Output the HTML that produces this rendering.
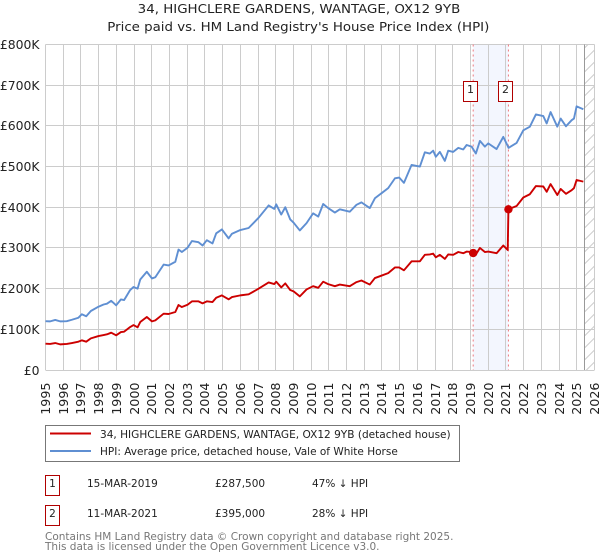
<!DOCTYPE html>
<html lang="en">
<head>
<meta charset="utf-8">
<title>34, Highclere Gardens price chart</title>
<style>
html,body{margin:0;padding:0;background:#fff;}
body{width:600px;height:560px;overflow:hidden;}
svg{display:block;font-family:"DejaVu Sans",sans-serif;fill:#222;}
</style>
</head>
<body>
<svg id="chart" width="600" height="560" viewBox="0 0 600 560">
  <defs>
    <pattern id="hatch" width="12" height="12" patternUnits="userSpaceOnUse" patternTransform="translate(584.5 0)">
      <path d="M-1 13L13 -1" stroke="#ccc" stroke-width="1" fill="none"/>
    </pattern>
  </defs>
  <text x="137.7" y="13" font-size="12.4" textLength="322.6" lengthAdjust="spacingAndGlyphs">34, HIGHCLERE GARDENS, WANTAGE, OX12 9YB</text>
  <text x="107.3" y="31" font-size="12.4" textLength="382" lengthAdjust="spacingAndGlyphs">Price paid vs. HM Land Registry's House Price Index (HPI)</text>
  <rect id="band" y="44.5" height="325.5" fill="#f3f6fe"/>
  <g id="grid"></g>
  <rect x="584.5" y="44.5" width="10" height="325.5" fill="url(#hatch)"/>
  <line x1="584.5" x2="584.5" y1="44.5" y2="370" stroke="#999" stroke-width="1"/>
  <g id="axes"></g>
  <g id="sale-lines"></g>
  <path id="hpi-line" fill="none" stroke="#5f8fd2" stroke-width="1.9" stroke-linejoin="round"/>
  <path id="price-line" fill="none" stroke="#cc0000" stroke-width="1.9" stroke-linejoin="round"/>
  <g id="sale-marks"></g>

  <g>
    <rect x="45.5" y="425.5" width="414" height="36" fill="#fff" stroke="#777"/>
    <line x1="50" x2="91" y1="433.5" y2="433.5" stroke="#cc0000" stroke-width="1.9"/>
    <text x="100" y="438" font-size="10.55">34, HIGHCLERE GARDENS, WANTAGE, OX12 9YB (detached house)</text>
    <line x1="50" x2="91" y1="451" y2="451" stroke="#5f8fd2" stroke-width="1.9"/>
    <text x="100" y="455" font-size="10.5">HPI: Average price, detached house, Vale of White Horse</text>
  </g>

  <g font-size="10.5">
    <rect x="45.5" y="475.5" width="14" height="20" fill="#fff" stroke="#b00000"/>
    <text x="52.5" y="487" text-anchor="middle">1</text>
    <text x="87" y="487">15-MAR-2019</text>
    <text x="215" y="487">£287,500</text>
    <text x="312" y="487">47% ↓ HPI</text>
    <rect x="45.5" y="505.5" width="14" height="20" fill="#fff" stroke="#b00000"/>
    <text x="52.5" y="517" text-anchor="middle">2</text>
    <text x="87" y="517">11-MAR-2021</text>
    <text x="215" y="517">£395,000</text>
    <text x="312" y="517">28% ↓ HPI</text>
  </g>
  <text x="45" y="540" font-size="10.5" style="fill:#777">Contains HM Land Registry data © Crown copyright and database right 2025.</text>
  <text x="45" y="550" font-size="10.5" style="fill:#777">This data is licensed under the Open Government Licence v3.0.</text>
</svg>
<script>
const yearTicks = [1995,1996,1997,1998,1999,2000,2001,2002,2003,2004,2005,2006,2007,2008,2009,2010,2011,2012,2013,2014,2015,2016,2017,2018,2019,2020,2021,2022,2023,2024,2025,2026];
const valueTicks = [0,100,200,300,400,500,600,700,800];
const valueTickLabels = ['£0','£100K','£200K','£300K','£400K','£500K','£600K','£700K','£800K'];

const hpiYears = [1995,1995.26,1995.55,1995.83,1996.2,1996.49,1996.86,1997.05,1997.3,1997.56,1997.99,1998.28,1998.47,1998.71,1998.99,1999.26,1999.44,1999.78,1999.97,2000.2,2000.35,2000.72,2001.01,2001.2,2001.67,2001.95,2002.33,2002.51,2002.7,2003.02,2003.27,2003.64,2003.87,2004.11,2004.43,2004.64,2004.96,2005.34,2005.53,2006,2006.47,2007.03,2007.6,2007.92,2008.03,2008.31,2008.54,2008.82,2009.01,2009.36,2009.74,2010.11,2010.4,2010.68,2010.96,2011.34,2011.62,2012.18,2012.56,2012.84,2013.31,2013.6,2014.35,2014.73,2014.97,2015.24,2015.67,2016.14,2016.42,2016.7,2016.89,2017.04,2017.27,2017.55,2017.74,2018.02,2018.31,2018.59,2018.78,2019.06,2019.3,2019.53,2019.81,2020,2020.47,2020.85,2021.15,2021.6,2021.98,2022.35,2022.69,2023.11,2023.3,2023.52,2023.9,2024.09,2024.39,2024.71,2024.84,2024.99,2025.37];
const hpiValues = [120,119.5,123,119.5,120,123.5,128.5,137,132,145,155.5,161,163,170,159,173.5,172,196.5,204,200,222.5,241.5,225,228,259,257,266,296,290,300.5,317,314,306,319,311,336,345.5,323.5,335,344,349,374,404.5,396,407,382,400,370,362,343,361,385,377,408,398,387,395,389,406,412,398,422,447,471,473,460,504,500,535,532,539,524,536,514,539,536,546,542,553,549,532,563,549,557,543,573,546,558,589,598,628,624,606,634,598,618,599,614,618,648,641];

const priceYears = [1995,1995.26,1995.55,1995.83,1996.2,1996.49,1996.86,1997.05,1997.3,1997.56,1997.99,1998.28,1998.47,1998.71,1998.99,1999.26,1999.44,1999.78,1999.97,2000.2,2000.35,2000.72,2001.01,2001.2,2001.67,2001.95,2002.33,2002.51,2002.7,2003.02,2003.27,2003.64,2003.87,2004.11,2004.43,2004.64,2004.96,2005.34,2005.53,2006,2006.47,2007.03,2007.6,2007.92,2008.03,2008.31,2008.54,2008.82,2009.01,2009.36,2009.74,2010.11,2010.4,2010.68,2010.96,2011.34,2011.62,2012.18,2012.56,2012.84,2013.31,2013.6,2014.35,2014.73,2014.97,2015.24,2015.67,2016.14,2016.42,2016.7,2016.89,2017.04,2017.27,2017.55,2017.74,2018.02,2018.31,2018.59,2018.78,2019.06,2019.15,2019.3,2019.53,2019.81,2020,2020.47,2020.85,2021.1,2021.14,2021.6,2021.98,2022.35,2022.69,2023.11,2023.3,2023.52,2023.9,2024.09,2024.39,2024.71,2024.84,2024.99,2025.37];
const priceValues = [64.7,64,66.3,63,64,66.3,69.6,72.9,69.6,77.8,83.5,86,87.6,91.7,85.2,93.3,94.2,105.6,110.5,104.8,117.9,130.2,119.5,122,138.4,137.6,142.5,159.7,154.8,160.5,168.7,168.7,163.8,168.7,167,177.7,183.4,173.6,179.3,183.4,185.9,199.8,215.3,211.3,217,203,212.9,196.5,193.2,181,198,206,202,217,211,206,210,206,216,220,210,226,238,252,252,245,267,267,283,284,286,277,283,273,284,283,290,287,291,290,287.5,284,300,290,291,287,306,295,395,403,424,432,452,451,438,457,430,445,433,442,447,467,463];

const saleYears = [2019.15,2021.14];
const saleValues = [287.5,395];
const saleLabels = ['1','2'];

const SVGNS = 'http://www.w3.org/2000/svg';
function xScale(year){ return 45.5 + (year - 1995) * (549 / 31); }
function yScale(value){ return 370 - value * (325.5 / 800); }
function snap(v){ return Math.floor(v) + 0.5; }
function make(tag, attrs, parent){
  const el = document.createElementNS(SVGNS, tag);
  for (const k in attrs) el.setAttribute(k, attrs[k]);
  parent.appendChild(el);
  return el;
}
function linePath(xs, ys){
  return xs.map((x, i) => (i ? 'L' : 'M') + xScale(x).toFixed(2) + ' ' + yScale(ys[i]).toFixed(2)).join('');
}

const grid = document.getElementById('grid');
const axes = document.getElementById('axes');
const band = document.getElementById('band');
band.setAttribute('x', xScale(saleYears[0]));
band.setAttribute('width', xScale(saleYears[1]) - xScale(saleYears[0]));

yearTicks.forEach(function(year){
  const x = snap(xScale(year));
  const gl = make('line', {x1:x, x2:x, y1:44.5, y2:370, stroke:'#ccc', 'stroke-width':1}, grid);
  
  
  const t = make('text', {'font-size':12.7, 'text-anchor':'end', transform:'translate(' + (x + 4.6) + ' 382.5) rotate(-90)'}, axes);
  
  
  t.textContent = String(year);
});
valueTicks.forEach(function(v, i){
  const y = snap(yScale(v));
  const gl = make('line', {x1:45.5, x2:594.5, y1:y, y2:y, stroke:'#ccc', 'stroke-width':1}, grid);
  
  
  const t = make('text', {'font-size':12.4, 'text-anchor':'end', x:39.5, y:y + 4.5}, axes);
  
  
  t.textContent = valueTickLabels[i];
});

document.getElementById('hpi-line').setAttribute('d', linePath(hpiYears, hpiValues));
document.getElementById('price-line').setAttribute('d', linePath(priceYears, priceValues));

const saleLines = document.getElementById('sale-lines');
const saleMarks = document.getElementById('sale-marks');
saleYears.forEach(function(year, i){
  const x = xScale(year);
  const dash = make('line', {x1:x, x2:x, y1:44.5, y2:370, stroke:'#f07a80', 'stroke-width':1, 'stroke-dasharray':'2 3'}, saleLines);
  
  
  const dot = make('circle', {cx:x, cy:yScale(saleValues[i]), r:4.2, fill:'#cc0000'}, saleMarks);
  
  
  const bx = Math.round(x) - 9.5;
  const box = make('rect', {x:bx, y:81.5, width:14, height:20, fill:'#fff', stroke:'#b00000'}, saleMarks);
  
  
  const label = make('text', {x:bx + 7, y:93, 'font-size':11, 'text-anchor':'middle'}, saleMarks);
  
  
  label.textContent = saleLabels[i];
});
</script>
</body>
</html>
